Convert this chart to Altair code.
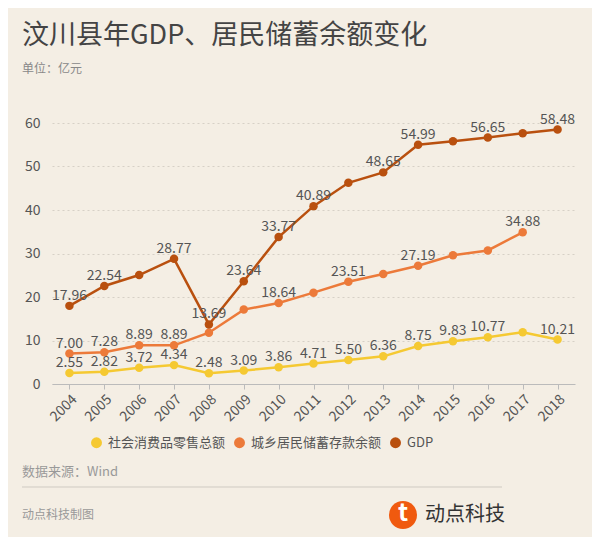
import altair as alt
import pandas as pd

years = [str(y) for y in range(2004, 2019)]
series = ["社会消费品零售总额", "城乡居民储蓄存款余额", "GDP"]
colors = ["#F5C932", "#EC7A3A", "#B9500F"]

retail = [2.55, 2.82, 3.72, 4.34, 2.48, 3.09, 3.86, 4.71, 5.50, 6.36, 8.75, 9.83, 10.77, 11.9, 10.21]
savings = [7.00, 7.28, 8.89, 8.89, 11.8, 17.1, 18.64, 21.0, 23.51, 25.3, 27.19, 29.6, 30.7, 34.88, None]
gdp = [17.96, 22.54, 25.05, 28.77, 13.69, 23.64, 33.77, 40.89, 46.25, 48.65, 54.99, 55.8, 56.65, 57.65, 58.48]

retail_labeled = [1, 1, 1, 1, 1, 1, 1, 1, 1, 1, 1, 1, 1, 0, 1]
savings_labeled = [1, 1, 1, 1, 0, 0, 1, 0, 1, 0, 1, 0, 0, 1, 0]
gdp_labeled = [1, 1, 0, 1, 1, 1, 1, 1, 0, 1, 1, 0, 1, 0, 1]

title_text = "汶川县年GDP、居民储蓄余额变化"
subtitle_text = "单位：亿元"
source_text = "数据来源：Wind"
credit_text = "动点科技制图"
brand_text = "动点科技"

rows = []
for name, vals, labs in zip(series, [retail, savings, gdp], [retail_labeled, savings_labeled, gdp_labeled]):
    for y, v, l in zip(years, vals, labs):
        if v is not None:
            rows.append({"year": y, "value": v, "series": name, "show": bool(l)})
df = pd.DataFrame(rows)

FONT = "Noto Sans CJK SC"

base = alt.Chart(df).encode(
    x=alt.X("year:O", title=None,
            scale=alt.Scale(type="point", padding=0.5),
            axis=alt.Axis(labelAngle=-45, labelFontSize=14, labelColor="#555",
                          labelFont=FONT, domainColor="#bbb", tickColor="#bbb",
                          tickSize=5, grid=False, labelPadding=3)),
    y=alt.Y("value:Q", title=None,
            scale=alt.Scale(domain=[0, 60]),
            axis=alt.Axis(values=[0, 10, 20, 30, 40, 50, 60], labelFontSize=14,
                          labelColor="#555", labelFont=FONT, domain=False, ticks=False,
                          labelPadding=12, gridColor="#d6d0c6", gridDash=[2, 3],
                          gridWidth=1)),
)

points = base.mark_circle(size=72, opacity=1).encode(
    color=alt.Color("series:N", sort=series,
                    scale=alt.Scale(domain=series, range=colors),
                    legend=alt.Legend(title=None, orient="none", direction="horizontal",
                                      legendX=38, legendY=313, symbolType="circle",
                                      symbolSize=120, labelFontSize=13, labelColor="#555",
                                      labelFont=FONT, columnPadding=7, labelOffset=5,
                                      padding=0, symbolStrokeWidth=0))
)
lines = base.mark_line(strokeWidth=2.5).encode(
    color=alt.Color("series:N", sort=series, scale=alt.Scale(domain=series, range=colors))
)
labels = base.transform_filter("datum.show").mark_text(
    fontSize=14, font=FONT, color="#555", baseline="alphabetic", dy=-6
).encode(text=alt.Text("value:Q", format=".2f"))

def note(txt, x, y, size, color, weight="normal", align="left"):
    return alt.Chart(pd.DataFrame({"t": [txt]})).mark_text(
        fontSize=size, font=FONT, color=color, align=align, baseline="middle",
        fontWeight=weight
    ).encode(text="t:N", x=alt.value(x), y=alt.value(y))

title = note(title_text, -30, -87, 27, "#444")
subtitle = note(subtitle_text, -30, -54, 12, "#888")
source = note(source_text, -30, 349, 13, "#999")
credit = note(credit_text, -30, 392, 12, "#999")
brand = note(brand_text, 373, 392, 20, "#333")

rule = alt.Chart(pd.DataFrame({"a": [0]})).mark_rule(color="#cfcac2", strokeWidth=1).encode(
    x=alt.value(-30), x2=alt.value(450), y=alt.value(364)
)
logo = alt.Chart(pd.DataFrame({"a": [0]})).mark_circle(size=784, color="#F05A0F", opacity=1).encode(
    x=alt.value(351), y=alt.value(392)
)
logo_t = note("t", 351, 391, 24, "#ffffff", weight="bold", align="center")

chart = alt.layer(
    points, lines, labels, title, subtitle, source, credit, brand, rule, logo, logo_t
).properties(
    width=523, height=261,
    padding={"left": 44, "top": 115, "right": 17, "bottom": 153},
    autosize=alt.AutoSizeParams(type="none"),
    background="#F4EEE4",
).configure_view(stroke=None)

chart.save("out.html", embed_options={"renderer": "svg", "actions": False})
